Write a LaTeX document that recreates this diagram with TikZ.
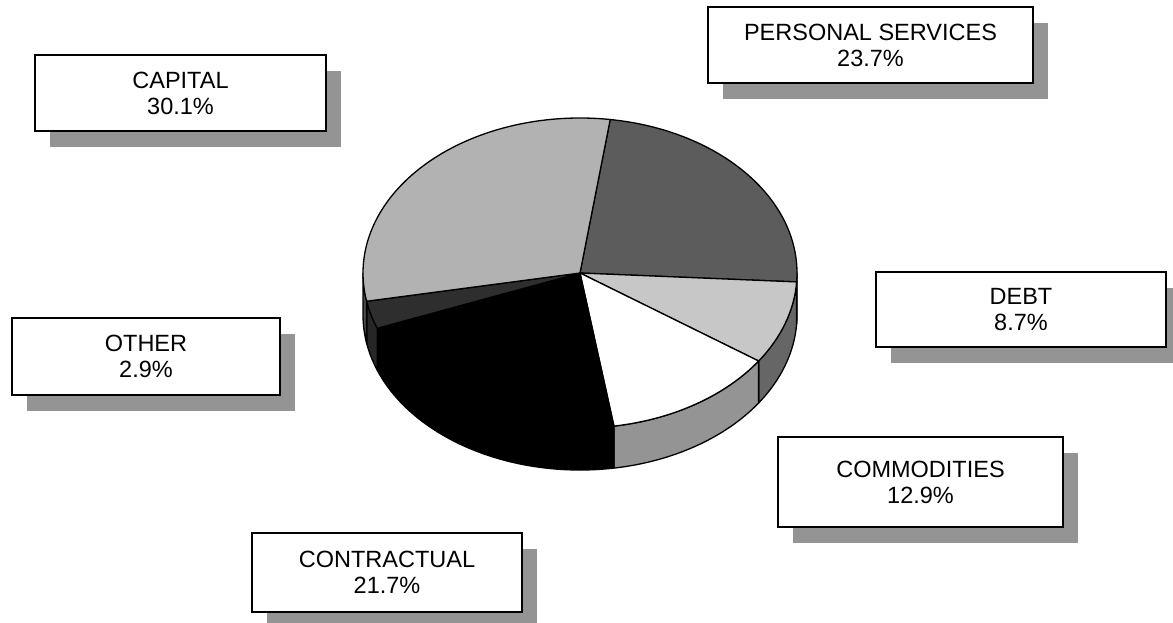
\documentclass[tikz,border=0pt]{standalone}
\usepackage{fontspec}
\setmainfont{Liberation Sans}
\usetikzlibrary{shadows}
\colorlet{captop}{black!30}
\colorlet{capside}{black!70}
\colorlet{perstop}{black!64}
\colorlet{persside}{black!75}
\colorlet{debttop}{black!22}
\colorlet{debtside}{black!60}
\colorlet{comtop}{white}
\colorlet{comside}{black!42}
\colorlet{contop}{black}
\colorlet{conside}{black}
\colorlet{othtop}{black!82}
\colorlet{othside}{black!85}
\tikzstyle{label box}=[draw,line width=1.2pt,fill=white,align=center,inner sep=0pt,
  font=\fontsize{23.5}{26}\selectfont,
  drop shadow={shadow xshift=15pt,shadow yshift=-16pt,fill=black!42,opacity=1}]
\tikzstyle{pie edge}=[draw=black,line width=1.3pt,line join=round]

\begin{document}
\begin{tikzpicture}[x=1pt,y=1pt]
  
  \def\cx{580}
  \def\cy{-273}
  \def\rx{217}
  \def\ry{155}
  \def\dep{42} % thickness of the pie
  
  \useasboundingbox (0,0) rectangle (1173,-622);
  
  % PIE SIDES (front half)
  \foreach \a/\b/\col in {-3.3/0/persside,-34.6/-3.3/debtside,-81/-34.6/comside,
                          -159.1/-81/conside,-169.5/-159.1/othside,-180/-169.5/capside}{
    \filldraw[pie edge,fill=\col] ({\cx+\rx*cos(\a)},{\cy+\ry*sin(\a)})
      arc[start angle=\a,end angle=\b,x radius=\rx,y radius=\ry] -- ++(0,-\dep)
      arc[start angle=\b,end angle=\a,x radius=\rx,y radius=\ry] -- cycle;
  }
  
  % PIE TOP
  \foreach \a/\b/\col in {-3.3/82/perstop,-34.6/-3.3/debttop,-81/-34.6/comtop,
                          -159.1/-81/contop,-169.5/-159.1/othtop,82/190.5/captop}{
    \filldraw[pie edge,fill=\col] (\cx,\cy) -- ({\cx+\rx*cos(\a)},{\cy+\ry*sin(\a)})
      arc[start angle=\a,end angle=\b,x radius=\rx,y radius=\ry] -- cycle;
  }
  
  % LABELS
  \node[label box,minimum width=291,minimum height=76] (capital) at (180.5,-93) {CAPITAL\\30.1\%};
  \node[label box,minimum width=325,minimum height=76] (personal) at (870.5,-45) {PERSONAL SERVICES\\23.7\%};
  \node[label box,minimum width=290,minimum height=75] (debt) at (1021,-309.5) {DEBT\\8.7\%};
  \node[label box,minimum width=268,minimum height=77] (other) at (146,-356.5) {OTHER\\2.9\%};
  \node[label box,minimum width=285,minimum height=90] (commodities) at (920.5,-482) {COMMODITIES\\12.9\%};
  \node[label box,minimum width=270,minimum height=79] (contractual) at (387,-572.5) {CONTRACTUAL\\21.7\%};
  
\end{tikzpicture}
\end{document}
